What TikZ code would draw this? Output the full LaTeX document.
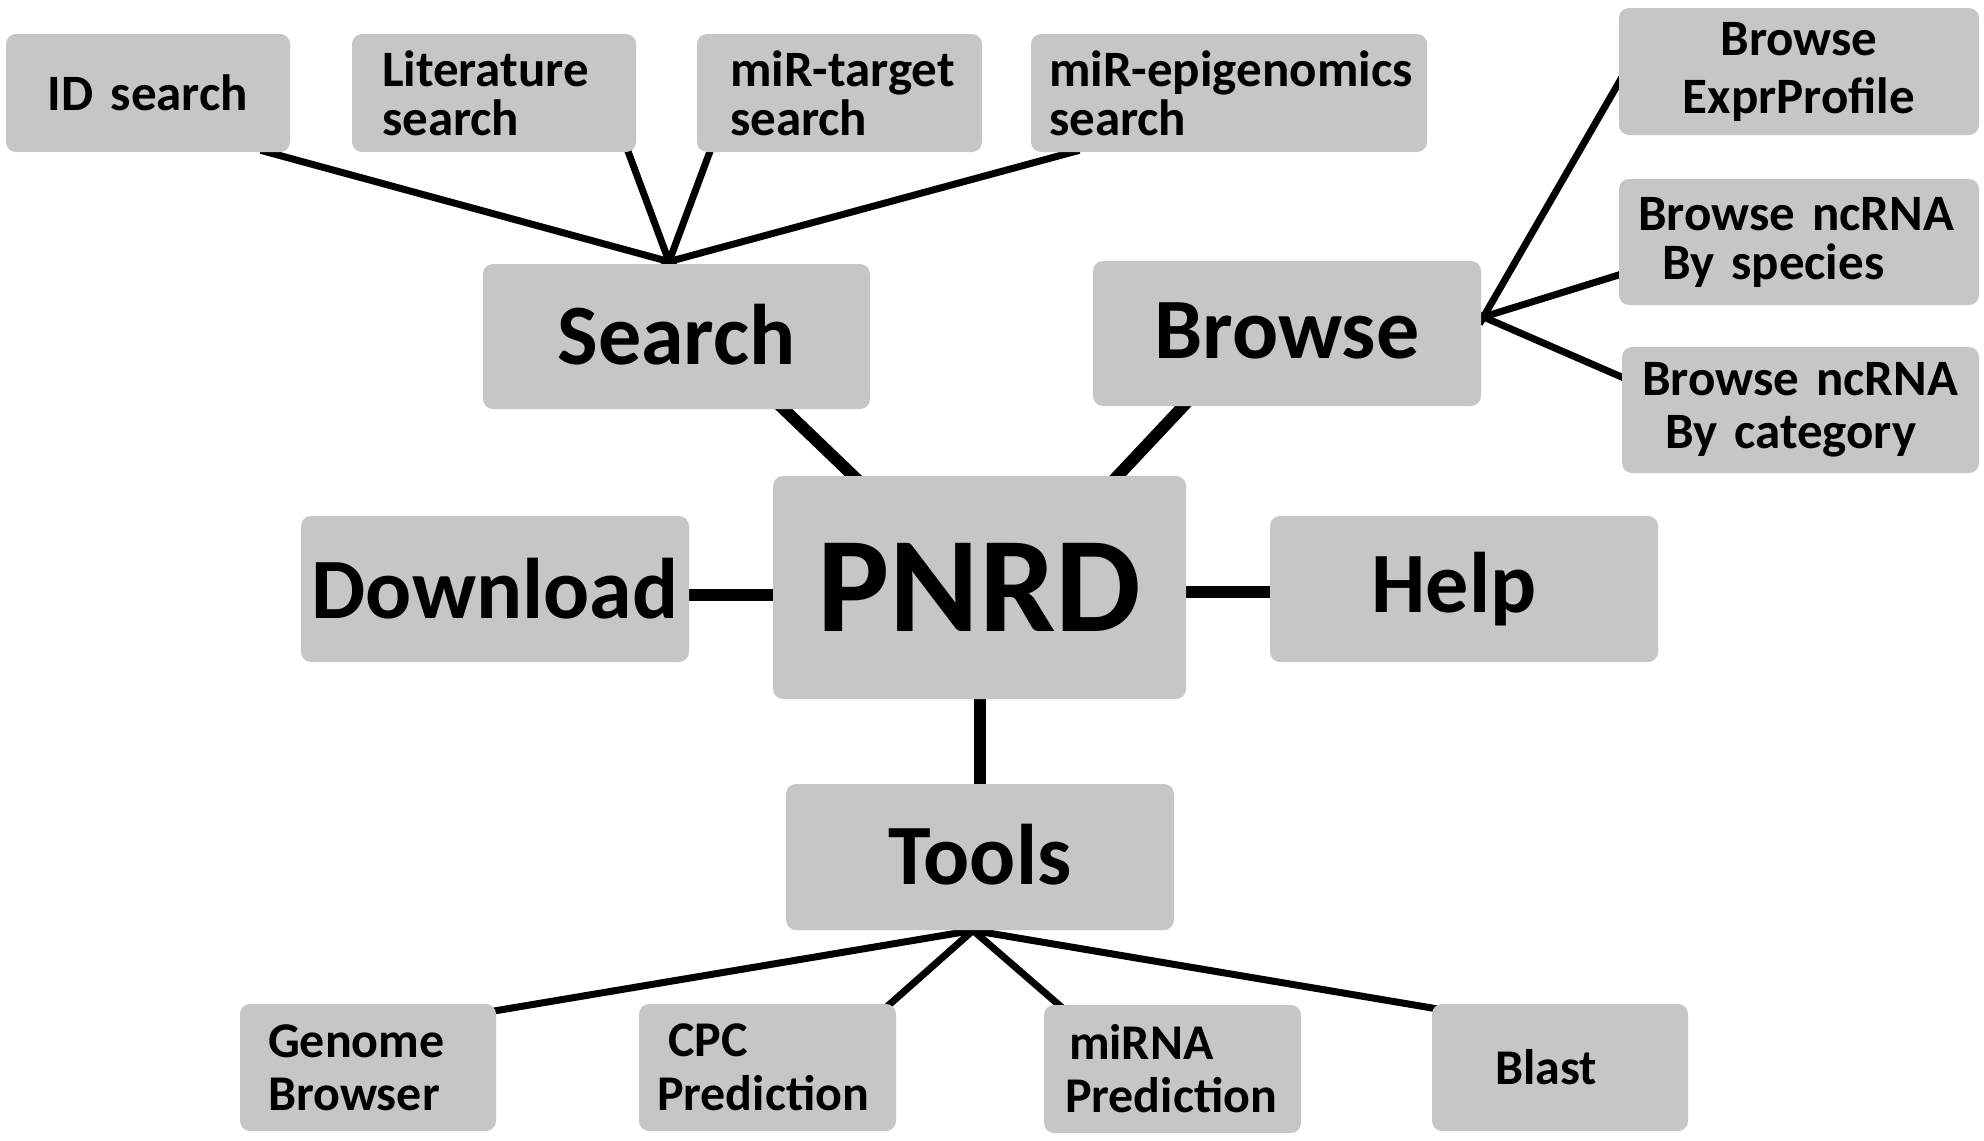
\documentclass[tikz,border=0pt]{standalone}
\usepackage{fontspec}
\setmainfont{Carlito}
\usetikzlibrary{backgrounds}
\definecolor{boxgray}{RGB}{198,198,198}
\begin{document}
\begin{tikzpicture}[x=0.5pt,y=-0.5pt,
  box/.style={fill=boxgray, rounded corners=5pt, inner xsep=0pt, inner ysep=0pt},
  big/.style={font=\fontsize{43}{43}\selectfont\bfseries},
  huge/.style={font=\fontsize{68}{68}\selectfont\bfseries},
  sm/.style={font=\fontsize{25.5}{#1}\selectfont\bfseries},
  sm/.default=24.5,
  bt/.style={font=\fontsize{25}{#1}\selectfont\bfseries},
  bt/.default=26.5,
  sub/.style={line width=3.5pt, shorten <=-4pt, shorten >=-4pt},
  mainline/.style={line width=6pt, shorten <=-4pt, shorten >=-4pt}]
\useasboundingbox (0,0) rectangle (1984,1140);
% top search options
\node[box,sm,text width=142pt,minimum height=59pt,align=center] (id) at (148,93) {ID search};
\node[box,sm,text width=142pt,minimum height=59pt,align=left] (lit) at (494,93) {\hspace*{15pt}Literature\\\hspace*{15pt}search};
\node[box,sm,text width=142.5pt,minimum height=59pt,align=left] (tgt) at (839.5,93) {\hspace*{16.5pt}miR-target\\\hspace*{16.5pt}search};
\node[box,sm,text width=198pt,minimum height=59pt,align=left] (epi) at (1229,93) {\hspace*{9pt}miR-epigenomics\\\hspace*{9pt}search};
% browse options
\node[box,sm=29,text width=180pt,minimum height=63.5pt,align=center] (expr) at (1799,71.5) {Browse\\ExprProfile};
\node[box,sm=24.5,text width=180pt,minimum height=63pt,align=left] (spec) at (1799,242) {\hspace*{9.5pt}Browse ncRNA\\\hspace*{21.5pt}By species};
\node[box,sm=26.5,text width=178.5pt,minimum height=63pt,align=left] (cat) at (1800.5,410) {\hspace*{10pt}Browse ncRNA\\\hspace*{21.5pt}By category};
% main nodes
\node[box,big,text width=193.5pt,minimum height=72.5pt,align=center] (search) at (676.5,336.5) {\raisebox{2.5pt}{Search}};
\node[box,big,text width=194pt,minimum height=72.5pt,align=center] (browse) at (1287,333.5) {\raisebox{3pt}{Browse}};
\node[box,big,text width=194pt,minimum height=73pt,align=center] (download) at (495,589) {Download};
\node[box,huge,text width=206.5pt,minimum height=111.5pt,align=center] (pnrd) at (979.5,587.5) {\raisebox{-3pt}{PNRD}};
\node[box,big,text width=194pt,minimum height=73pt,align=center] (help) at (1464,589) {\hbox{Help\kern10pt}};
\node[box,big,text width=194pt,minimum height=73pt,align=center] (tools) at (980,857) {\raisebox{2.5pt}{Tools}};
% tools options
\node[box,bt=26.5,text width=128pt,minimum height=63.5pt,align=left] (genome) at (368,1067.5) {\hspace*{14pt}Genome\\\hspace*{14pt}Browser};
\node[box,bt=27,text width=128.5pt,minimum height=63.5pt,align=left] (cpc) at (767.5,1067.5) {\hspace*{14.5pt}CPC\\\hspace*{9pt}Prediction};
\node[box,bt=26.5,text width=128.5pt,minimum height=64pt,align=left] (mirna) at (1172.5,1069) {\hspace*{12.5pt}miRNA\\\hspace*{10.5pt}Prediction};
\node[box,bt,text width=128pt,minimum height=63.5pt,align=left] (blast) at (1560,1067.5) {\hspace*{31.5pt}Blast};
% junctions
\coordinate (sj) at ([xshift=-3.75pt,yshift=1pt]search.north);
\coordinate (bj) at ([xshift=1pt,yshift=8.25pt]browse.east);
\coordinate (tj) at ([xshift=-3.5pt]tools.south);
\begin{scope}[on background layer]
\fill[white] (0,0) rectangle (1984,1140);
\draw[sub] ([xshift=-11pt]id.south east) -- (sj);
\draw[sub] ([xshift=-4pt]lit.south east) -- (sj);
\draw[sub] ([xshift=6.5pt]tgt.south west) -- (sj);
\draw[sub] ([xshift=20.5pt]epi.south west) -- (sj);
\draw[mainline] ([xshift=53.75pt]search.south) -- ([xshift=-63.25pt]pnrd.north);
\draw[mainline] ([xshift=-52pt]browse.south) -- ([xshift=69.25pt]pnrd.north);
\draw[sub] (bj) -- ([yshift=-5.75pt]expr.west);
\draw[sub] (bj) -- ([yshift=-16.5pt]spec.west);
\draw[sub] (bj) -- ([yshift=16.5pt]cat.west);
\draw[mainline] ([yshift=-2.75pt]download.east) -- ([yshift=-2.75pt]download.east -| pnrd.west);
\draw[mainline] ([yshift=-2.25pt]pnrd.east) -- ([yshift=-2.25pt]pnrd.east -| help.west);
\draw[mainline] (pnrd.south) -- (pnrd.south |- tools.north);
\draw[sub] ([yshift=-3.5pt]genome.north east) -- (tj);
\draw[sub] ([xshift=-3pt]cpc.north east) -- (tj);
\draw[sub] ([xshift=7.5pt]mirna.north west) -- (tj);
\draw[sub] ([xshift=2pt,yshift=-2.5pt]blast.north west) -- (tj);
\end{scope}
\end{tikzpicture}
\end{document}
